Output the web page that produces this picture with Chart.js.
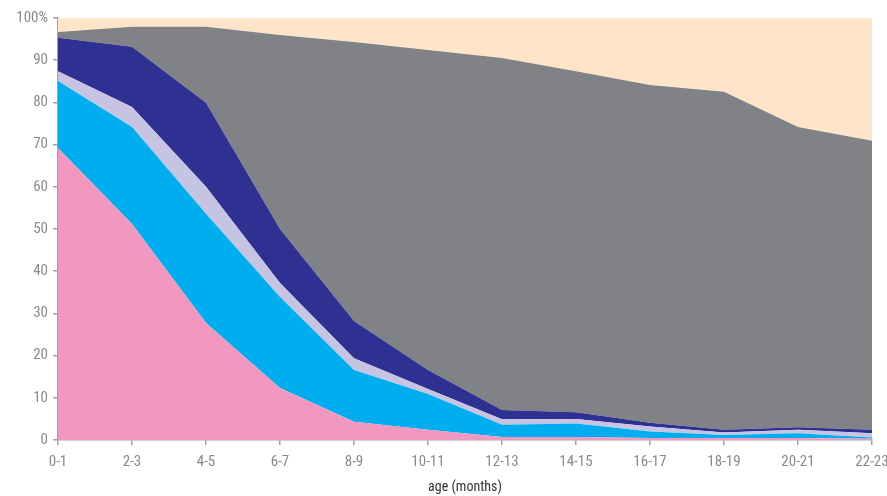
<!DOCTYPE html>
<html>
<head>
<meta charset="utf-8">
<script src="https://cdn.jsdelivr.net/npm/chart.js@4"></script>
<style>
  html, body { margin: 0; padding: 0; background: #fff; }
  #wrap { width: 887px; height: 496px; }
</style>
</head>
<body>
<div id="wrap"><canvas id="chart" width="887" height="496"></canvas></div>
<script>
// age groups
const ageLabels = ["0-1", "2-3", "4-5", "6-7", "8-9", "10-11", "12-13", "14-15", "16-17", "18-19", "20-21", "22-23"];

// shares per feeding category (percent), bottom to top
const pinkLayer     = [69.2, 51.2, 27.7, 12.3, 4.3, 2.4, 0.7, 0.7, 0.5, 0.5, 0.5, 0.3];
const cyanLayer     = [15.9, 23.0, 25.9, 21.6, 12.3, 8.5, 2.9, 3.2, 1.5, 0.7, 1.1, 0.3];
const lavenderLayer = [2.3, 4.7, 6.4, 3.3, 2.8, 1.2, 1.3, 1.1, 1.2, 0.6, 0.8, 1.0];
const navyLayer     = [7.9, 14.3, 19.9, 12.8, 8.8, 4.5, 2.2, 1.6, 0.9, 0.6, 0.6, 0.8];
const greyLayer     = [1.4, 4.7, 18.0, 46.0, 66.1, 75.8, 83.4, 80.8, 80.0, 80.1, 71.2, 68.5];
const peachLayer    = [3.3, 2.1, 2.1, 4.0, 5.7, 7.6, 9.5, 12.6, 15.9, 17.5, 25.8, 29.1];

const yTicks = [0, 10, 20, 30, 40, 50, 60, 70, 80, 90, 100];

const fontFam = "'Liberation Sans Narrow', 'Roboto Condensed', 'DejaVu Sans Condensed', sans-serif";

function layer(data, color, first) {
    return {
        data: data,
        backgroundColor: color,
        borderWidth: 0,
        pointRadius: 0,
        fill: first ? "origin" : "-1",
        tension: 0
    };
}

const ctx = document.getElementById("chart").getContext("2d");
new Chart(ctx, {
    type: "line",
    data: {
        labels: ageLabels,
        datasets: [
            layer(pinkLayer, "#f297c0", true),
            layer(cyanLayer, "#00aeef"),
            layer(lavenderLayer, "#c6c4e2"),
            layer(navyLayer, "#2e3192"),
            layer(greyLayer, "#808285"),
            layer(peachLayer, "#fee5c9")
        ]
    },
    options: {
        responsive: false,
        animation: false,
        layout: { padding: { top: 18, right: 0, left: 0, bottom: 0 } },
        plugins: {
            legend: { display: false },
            tooltip: { enabled: false }
        },
        scales: {
            x: {
                offset: false,
                grid: { display: true, drawOnChartArea: false, tickLength: 5, color: "#a0a0a0", lineWidth: 1.5 },
                border: { color: "#a0a0a0", width: 1.5 },
                ticks: { color: "#8a8a8a", font: { family: fontFam, size: 15 }, padding: 8, maxRotation: 0, autoSkip: false },
                title: { display: true, text: "age (months)", color: "#333", font: { family: fontFam, size: 14 }, padding: { top: 4, bottom: 0 } },
                afterFit: s => { s.height = 56; s.paddingRight = 15; s.paddingLeft = 0; }
            },
            y: {
                stacked: true,
                min: 0,
                max: 100,
                afterBuildTicks: s => { s.ticks = yTicks.map(v => ({ value: v })); },
                grid: { display: true, drawOnChartArea: false, tickLength: 5, color: "#a0a0a0", lineWidth: 1.5 },
                border: { color: "#a0a0a0", width: 1.5 },
                ticks: {
                    color: "#8a8a8a",
                    font: { family: fontFam, size: 15 },
                    padding: 5,
                    callback: v => v === 100 ? "100%" : v
                },
                afterFit: s => { s.width = 58; s.paddingTop = 0; }
            }
        }
    }
});
</script>
</body>
</html>
